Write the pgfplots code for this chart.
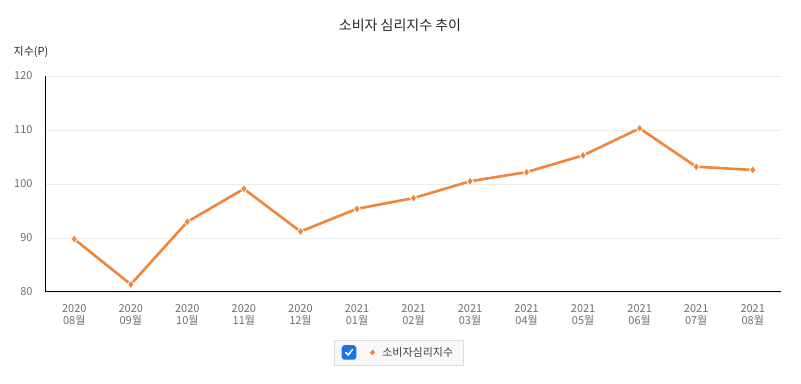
\documentclass[border=0pt]{standalone}
\usepackage{pgfplots}
\pgfplotsset{compat=1.18}
\usepackage{fontspec}
\setmainfont{Noto Sans CJK KR}
\usetikzlibrary{calc,shapes.geometric}
\definecolor{lineor}{RGB}{241,133,56}
\definecolor{tickgray}{RGB}{110,110,110}
\definecolor{gridgray}{RGB}{235,235,235}
\definecolor{cbblue}{RGB}{26,115,232}
\definecolor{legfill}{RGB}{248,248,248}
\definecolor{legdraw}{RGB}{220,220,220}
\begin{document}
\begin{tikzpicture}
\begin{axis}[
  scale only axis,
  width=735pt, height=216pt,
  xmin=-0.5, xmax=12.5,
  ymin=80, ymax=120,
  ytick={80,90,100,110,120},
  xtick={0,...,12},
  xticklabels={{2020\\08월},{2020\\09월},{2020\\10월},{2020\\11월},{2020\\12월},{2021\\01월},{2021\\02월},{2021\\03월},{2021\\04월},{2021\\05월},{2021\\06월},{2021\\07월},{2021\\08월}},
  /pgf/number format/assume math mode=true,
  axis x line*=bottom, axis y line*=left,
  axis line style={black, line width=1pt, -},
  major tick length=0pt,
  ymajorgrids, major grid style={gridgray, line width=0.8pt},
  ticklabel style={font=\fontsize{11}{11}\selectfont, text=tickgray},
  xticklabel style={align=center, yshift=-9pt, font=\fontsize{11}{11.5}\selectfont},
  yticklabel style={xshift=-10pt},
  clip=false,
  legend style={at={(0.4795,-0.222)}, anchor=north, fill=legfill, draw=legdraw,
    font=\fontsize{11}{11}\selectfont, text=black!75, inner xsep=8pt, inner ysep=5pt},
  legend cell align=left,
  legend image code/.code={
    \fill[cbblue, rounded corners=1.5pt] (-25pt,-6pt) rectangle (-13pt,6pt);
    \draw[white, line width=1.5pt, line cap=round, line join=round] (-22.3pt,0pt) -- (-19.8pt,-2.6pt) -- (-15.6pt,2.8pt);
    \node[diamond, fill=lineor, draw=none, inner sep=0pt, minimum size=6.5pt] at (0pt,0pt) {};
    \path (11pt,0pt);
  },
]
\addplot[color=lineor, line width=2.6pt, mark=diamond*, mark size=4.3pt,
  mark options={fill=lineor, draw=white, line width=0.8pt}]
  coordinates {(0,89.8) (1,81.4) (2,93.0) (3,99.1) (4,91.2) (5,95.4) (6,97.4) (7,100.5) (8,102.2) (9,105.3) (10,110.3) (11,103.2) (12,102.6)};
\addlegendentry{소비자심리지수}
\node[font=\fontsize{14}{14}\selectfont, text=black!85] at (rel axis cs:0.4816,1) [yshift=51pt] {소비자 심리지수 추이};
\node[font=\fontsize{11}{11}\selectfont, text=black!85] at (rel axis cs:0,1) [xshift=-15pt, yshift=24pt] {지수(P)};
\end{axis}
\path[use as bounding box] ($(current axis.south west)+(-46pt,-92pt)$) rectangle ($(current axis.north east)+(20pt,76pt)$);
\end{tikzpicture}
\end{document}
